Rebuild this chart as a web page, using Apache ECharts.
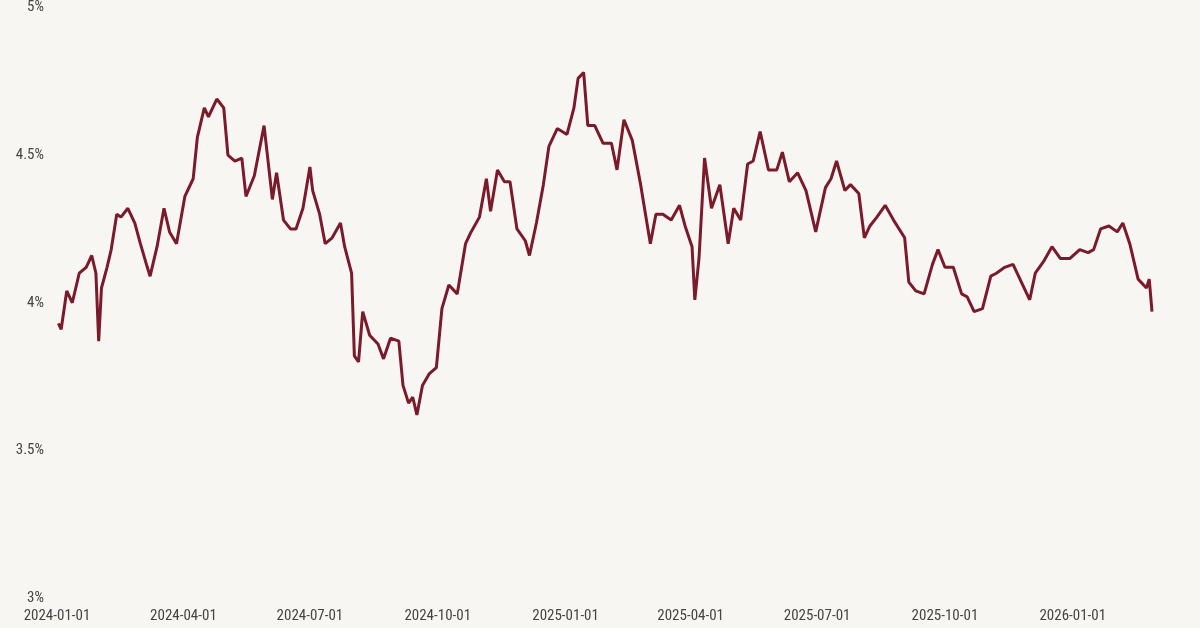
<!DOCTYPE html>
<html><head><meta charset="utf-8">
<script src="https://cdn.jsdelivr.net/npm/echarts@6/dist/echarts.min.js"></script>
<style>html,body{margin:0;background:#f8f6f2}#c{width:1200px;height:628px}</style>
</head><body><div id="c"></div>
<script>
const dates = ["2024-01-02","2024-01-04","2024-01-08","2024-01-12","2024-01-17","2024-01-22","2024-01-26","2024-01-29","2024-01-31","2024-02-02","2024-02-06","2024-02-09","2024-02-13","2024-02-16","2024-02-21","2024-02-26","2024-03-01","2024-03-06","2024-03-08","2024-03-13","2024-03-18","2024-03-22","2024-03-27","2024-04-02","2024-04-08","2024-04-11","2024-04-16","2024-04-19","2024-04-25","2024-04-30","2024-05-03","2024-05-08","2024-05-13","2024-05-16","2024-05-22","2024-05-29","2024-06-04","2024-06-07","2024-06-12","2024-06-17","2024-06-21","2024-06-26","2024-07-01","2024-07-03","2024-07-08","2024-07-12","2024-07-17","2024-07-23","2024-07-26","2024-07-31","2024-08-02","2024-08-05","2024-08-08","2024-08-13","2024-08-19","2024-08-23","2024-08-28","2024-09-03","2024-09-06","2024-09-10","2024-09-13","2024-09-16","2024-09-20","2024-09-25","2024-09-30","2024-10-04","2024-10-09","2024-10-15","2024-10-21","2024-10-25","2024-10-31","2024-11-05","2024-11-08","2024-11-13","2024-11-18","2024-11-22","2024-11-27","2024-12-03","2024-12-06","2024-12-11","2024-12-16","2024-12-20","2024-12-26","2025-01-02","2025-01-07","2025-01-10","2025-01-14","2025-01-17","2025-01-22","2025-01-28","2025-02-03","2025-02-07","2025-02-12","2025-02-18","2025-02-24","2025-03-03","2025-03-07","2025-03-12","2025-03-18","2025-03-24","2025-03-28","2025-04-02","2025-04-04","2025-04-07","2025-04-11","2025-04-16","2025-04-22","2025-04-28","2025-05-02","2025-05-07","2025-05-12","2025-05-16","2025-05-21","2025-05-27","2025-06-02","2025-06-06","2025-06-11","2025-06-17","2025-06-23","2025-06-30","2025-07-07","2025-07-11","2025-07-15","2025-07-21","2025-07-25","2025-07-31","2025-08-04","2025-08-08","2025-08-13","2025-08-19","2025-08-25","2025-09-02","2025-09-05","2025-09-10","2025-09-16","2025-09-22","2025-09-26","2025-10-01","2025-10-07","2025-10-13","2025-10-17","2025-10-22","2025-10-28","2025-11-03","2025-11-07","2025-11-13","2025-11-19","2025-11-25","2025-12-01","2025-12-05","2025-12-11","2025-12-17","2025-12-23","2025-12-30","2026-01-06","2026-01-12","2026-01-16","2026-01-21","2026-01-27","2026-02-02","2026-02-06","2026-02-11","2026-02-17","2026-02-23","2026-02-25","2026-02-27"];
const values = [3.93,3.91,4.04,4.0,4.1,4.12,4.16,4.1,3.87,4.05,4.12,4.18,4.3,4.29,4.32,4.27,4.2,4.12,4.09,4.19,4.32,4.24,4.2,4.36,4.42,4.56,4.66,4.63,4.69,4.66,4.5,4.48,4.49,4.36,4.43,4.6,4.35,4.44,4.28,4.25,4.25,4.32,4.46,4.38,4.3,4.2,4.22,4.27,4.19,4.1,3.82,3.8,3.97,3.89,3.86,3.81,3.88,3.87,3.72,3.66,3.68,3.62,3.72,3.76,3.78,3.98,4.06,4.03,4.2,4.24,4.29,4.42,4.31,4.45,4.41,4.41,4.25,4.21,4.16,4.27,4.4,4.53,4.59,4.57,4.66,4.76,4.78,4.6,4.6,4.54,4.54,4.45,4.62,4.55,4.4,4.2,4.3,4.3,4.28,4.33,4.26,4.19,4.01,4.15,4.49,4.32,4.4,4.2,4.32,4.28,4.47,4.48,4.58,4.45,4.45,4.51,4.41,4.44,4.38,4.24,4.39,4.42,4.48,4.38,4.4,4.37,4.22,4.26,4.29,4.33,4.28,4.22,4.07,4.04,4.03,4.13,4.18,4.12,4.12,4.03,4.02,3.97,3.98,4.09,4.1,4.12,4.13,4.07,4.01,4.1,4.14,4.19,4.15,4.15,4.18,4.17,4.18,4.25,4.26,4.24,4.27,4.2,4.08,4.05,4.08,3.97];
const tickDates = ["2024-01-01","2024-04-01","2024-07-01","2024-10-01","2025-01-01","2025-04-01","2025-07-01","2025-10-01","2026-01-01"];

const ts = d => Date.parse(d + 'T00:00:00Z');
const fmt = v => { const d = new Date(v); return d.getUTCFullYear() + '-' + String(d.getUTCMonth()+1).padStart(2,'0') + '-' + String(d.getUTCDate()).padStart(2,'0'); };
const chart = echarts.init(document.getElementById('c'));
const font = '"Roboto Condensed", Roboto, sans-serif';
chart.setOption({
  backgroundColor:'#f8f6f2',
  animation:false,
  grid:{left:57,right:48,top:-3,bottom:30},
  xAxis:{type:'value',min:ts('2024-01-01'),max:ts(dates[dates.length-1]),
    axisLine:{show:false},axisTick:{show:false},splitLine:{show:false},
    axisLabel:{customValues:tickDates.map(ts),formatter:fmt,
      color:'#444',fontSize:15,fontFamily:font,margin:11,hideOverlap:false,showMinLabel:true}},
  yAxis:{type:'value',min:3,max:5,interval:0.5,
    axisLine:{show:false},axisTick:{show:false},splitLine:{show:false},
    axisLabel:{formatter:v=>v+'%',color:'#444',fontSize:15,fontFamily:font,margin:13}},
  series:[{type:'line',data:dates.map((d,i)=>[ts(d),values[i]]),
    showSymbol:false,lineStyle:{color:'#7a1a2a',width:3},itemStyle:{color:'#7a1a2a'}}]
});
</script></body></html>
